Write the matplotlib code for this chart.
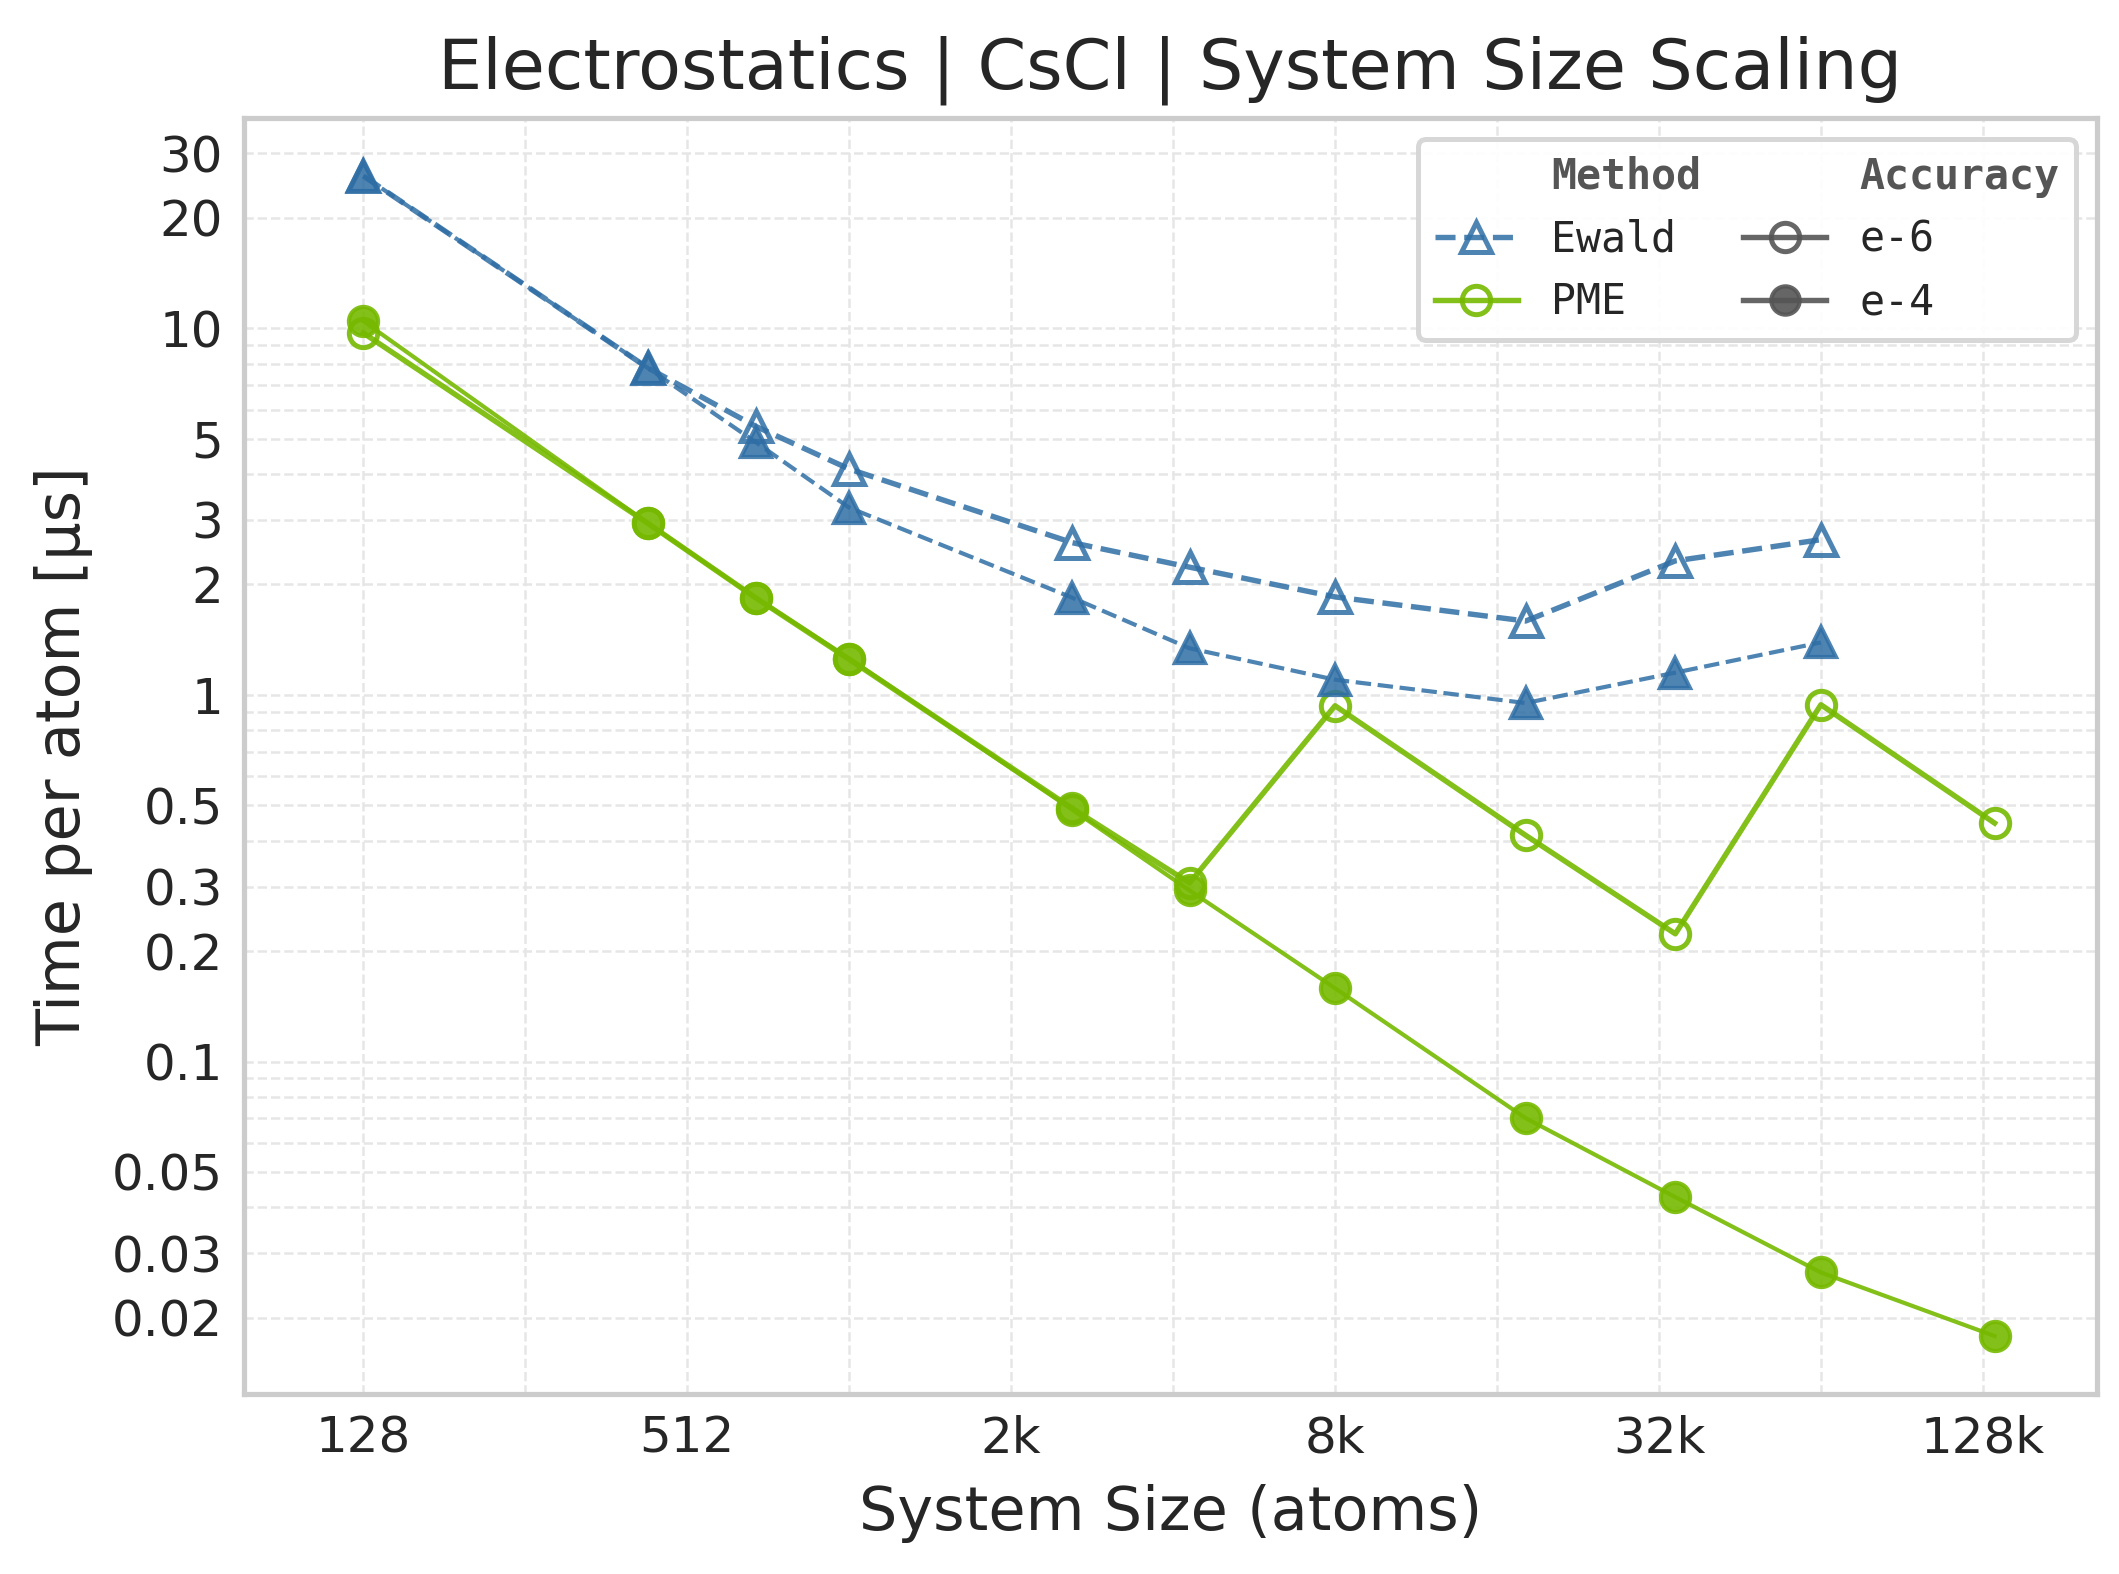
import numpy as np
import matplotlib
matplotlib.use("Agg")
import matplotlib.pyplot as plt
from matplotlib.lines import Line2D
from matplotlib.ticker import FixedLocator, FixedFormatter, LogLocator, NullFormatter

# system sizes (2 * n^3 atoms, CsCl cells)
sizes = [128, 432, 686, 1024, 2662, 4394, 8192, 18522, 35152, 65536, 137842]

# time per atom [us]
ewald_e6 = [26.0, 7.8, 5.40, 4.13, 2.60, 2.23, 1.85, 1.59, 2.32, 2.65]
ewald_e4 = [26.0, 7.8, 4.89, 3.24, 1.84, 1.34, 1.10, 0.95, 1.15, 1.39]
pme_e6 = [9.7, 2.94, 1.84, 1.25, 0.49, 0.307, 0.934, 0.414, 0.223, 0.94, 0.447]
pme_e4 = [10.45, 2.94, 1.84, 1.256, 0.486, 0.293, 0.1585, 0.0701, 0.0427, 0.0266, 0.01785]

x_major = [128, 512, 2048, 8192, 32768, 131072]
x_labels = ["128", "512", "2k", "8k", "32k", "128k"]
x_minor = [256, 1024, 4096, 16384, 65536]
y_major = [0.02, 0.03, 0.05, 0.1, 0.2, 0.3, 0.5, 1, 2, 3, 5, 10, 20, 30]
y_labels = ["0.02", "0.03", "0.05", "0.1", "0.2", "0.3", "0.5", "1", "2", "3", "5", "10", "20", "30"]

BLUE = "#2f6ea5"
GREEN = "#76b900"
GRAY = "#555555"
TEXT = "#262626"

plt.rcParams["font.family"] = "DejaVu Sans"

fig = plt.figure(figsize=(2119 / 300, 1574 / 300), dpi=300)
ax = fig.add_axes([244 / 2119, 1 - 1394 / 1574, (2097 - 244) / 2119, (1394 - 118) / 1574])

n_ew = len(ewald_e6)

# Ewald
ax.plot(sizes[:n_ew], ewald_e6, ls="--", lw=1.3, color=BLUE, alpha=0.85,
        marker="^", ms=7, mfc="none", mec=BLUE, mew=1.2, zorder=3)
ax.plot(sizes[:n_ew], ewald_e4, ls="--", lw=1.0, color=BLUE, alpha=0.85,
        marker="^", ms=7, mfc=BLUE, mec=BLUE, mew=1.0, zorder=4)

# PME
ax.plot(sizes, pme_e6, ls="-", lw=1.3, color=GREEN, alpha=0.9,
        marker="o", ms=6.8, mfc="none", mec=GREEN, mew=1.2, zorder=3)
ax.plot(sizes, pme_e4, ls="-", lw=1.0, color=GREEN, alpha=0.9,
        marker="o", ms=7, mfc=GREEN, mec=GREEN, mew=1.0, zorder=4)

ax.set_xscale("log", base=2)
ax.set_yscale("log")
ax.set_xlim(128 * 0.6, 137842 * 1.55)

ax.xaxis.set_major_locator(FixedLocator(x_major))
ax.xaxis.set_major_formatter(FixedFormatter(x_labels))
ax.xaxis.set_minor_locator(FixedLocator(x_minor))
ax.xaxis.set_minor_formatter(NullFormatter())
ax.yaxis.set_major_locator(FixedLocator(y_major))
ax.yaxis.set_major_formatter(FixedFormatter(y_labels))
ax.yaxis.set_minor_locator(LogLocator(base=10, subs=np.arange(2, 10)))
ax.yaxis.set_minor_formatter(NullFormatter())

ax.grid(True, which="both", ls="--", lw=0.6, color="#e6e6e6", zorder=0)
ax.set_axisbelow(True)
ax.tick_params(which="both", length=0, labelsize=12, labelcolor=TEXT, pad=5)

for sp in ax.spines.values():
    sp.set_color("#cccccc")
    sp.set_linewidth(1.25)

ax.set_title("Electrostatics | CsCl | System Size Scaling", fontsize=16.8, color=TEXT, pad=7)
ax.set_xlabel("System Size (atoms)", fontsize=14.5, color=TEXT, labelpad=5)
ax.set_ylabel("Time per atom [\u03bcs]", fontsize=14.5, color=TEXT, labelpad=4.5)

# legend: method column + accuracy column
blank = Line2D([], [], color="none")
handles = [
    blank,
    Line2D([], [], ls="--", lw=1.3, color=BLUE, alpha=0.85, marker="^", ms=7, mfc="none", mew=1.2),
    Line2D([], [], ls="-", lw=1.3, color=GREEN, alpha=0.9, marker="o", ms=6.8, mfc="none", mew=1.2),
    blank,
    Line2D([], [], ls="-", lw=1.3, color=GRAY, alpha=0.9, marker="o", ms=6.8, mfc="none", mew=1.2),
    Line2D([], [], ls="-", lw=1.3, color=GRAY, alpha=0.9, marker="o", ms=6.8, mfc=GRAY, mew=1.0),
]
labels = ["Method", "Ewald", "PME", "Accuracy", "e-6", "e-4"]
leg = ax.legend(handles, labels, loc="upper right", ncol=2, columnspacing=1.0,
                prop={"family": "DejaVu Sans Mono", "size": 10},
                frameon=True, fancybox=True, framealpha=0.95)
leg.get_frame().set_edgecolor("#d5d5d5")
leg.get_frame().set_linewidth(1.2)
for t in leg.get_texts():
    t.set_color(TEXT)
for i in (0, 3):
    leg.get_texts()[i].set_fontweight("bold")
    leg.get_texts()[i].set_color(GRAY)

fig.savefig("out.png", dpi=300, facecolor="white")
